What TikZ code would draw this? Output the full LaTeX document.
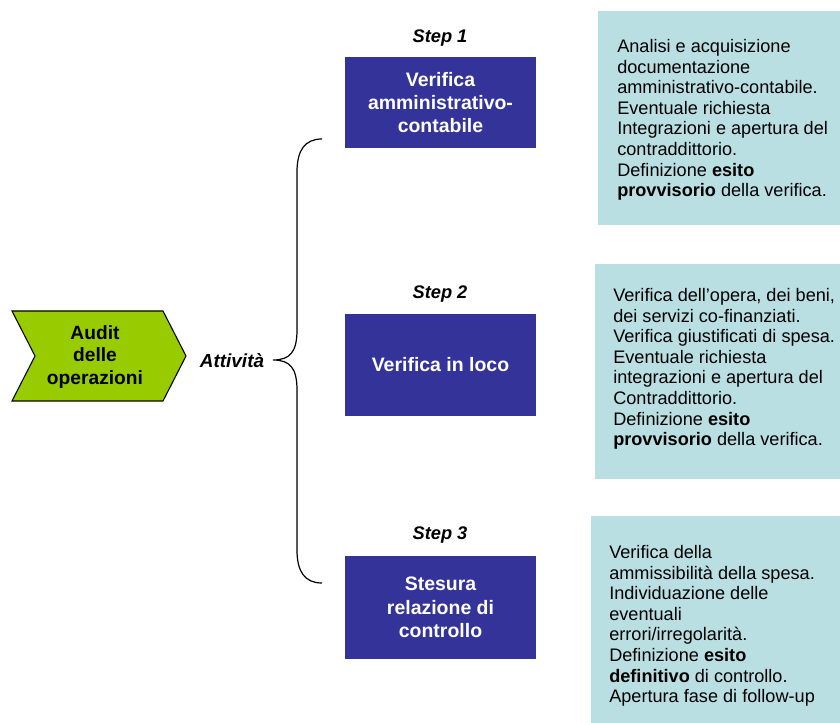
\documentclass[tikz,border=0pt]{standalone}
\usepackage{fontspec}
\setmainfont{Liberation Sans}
\definecolor{stepblue}{HTML}{333399}
\definecolor{auditgreen}{HTML}{99CC00}
\definecolor{noteteal}{HTML}{B9DFE3}
\begin{document}
\begin{tikzpicture}[x=0.75pt,y=-0.75pt,
  stepbox/.style={fill=stepblue,draw=none,text=white,font=\fontsize{14.6pt}{17.5pt}\selectfont\bfseries,align=center,inner sep=0pt},
  steplabel/.style={font=\fontsize{13.7pt}{15pt}\selectfont\bfseries\itshape,inner sep=0pt},
  notebox/.style={fill=noteteal,draw=none},
  notetext/.style={anchor=west,align=left,inner sep=0pt,font=\fontsize{13.6pt}{15.4pt}\selectfont},
  brace/.style={draw=black,line width=0.9pt}
]
\useasboundingbox (0,0) rectangle (840,723);

% chevron
\draw[fill=auditgreen,draw=black,line width=0.8pt] (12,311) -- (163,311) -- (186,356) -- (163,401) -- (12,401) -- (35,356) -- cycle;
\node[align=center,inner sep=0pt,font=\fontsize{14.4pt}{16.9pt}\selectfont\bfseries] (audit) at (95,357) {Audit\\delle\\operazioni};

\node[steplabel,font=\fontsize{14.2pt}{15pt}\selectfont\bfseries\itshape] (attivita) at (232,361) {Attività};

% brace
\coordinate (btop) at (322,139);
\coordinate (btip) at (273,360);
\coordinate (bbot) at (322,583);
\draw[brace] (btop) .. controls (305,139) and (297,150) .. (297,172) -- (297,330)
  .. controls (297,352) and (290,360) .. (btip)
  .. controls (290,360) and (297,368) .. (297,390) -- (297,550)
  .. controls (297,572) and (305,583) .. (bbot);

% steps
\node[steplabel] (s1) at (440,38) {Step 1};
\path[fill=stepblue] (345,57) rectangle (536,148);
\node[stepbox] (b1) at (440.5,102.5) {Verifica\\amministrativo-\\contabile};

\node[steplabel] (s2) at (440,294) {Step 2};
\path[fill=stepblue] (345,314) rectangle (536,416);
\node[stepbox] (b2) at (440.5,365) {Verifica in loco};

\node[steplabel] (s3) at (440,535) {Step 3};
\path[fill=stepblue] (345,556) rectangle (536,659);
\node[stepbox] (b3) at (440.5,607.5) {Stesura\\relazione di\\controllo};

% notes
\path[notebox] (598,11) rectangle (840,225);
\node[notetext] (n1) at (617,120) {Analisi e acquisizione\\documentazione\\amministrativo-contabile.\\Eventuale richiesta\\Integrazioni e apertura del\\contraddittorio.\\Definizione \textbf{esito}\\\textbf{provvisorio} della verifica.};

\path[notebox] (595,264) rectangle (840,479);
\node[notetext] (n2) at (613,369) {Verifica dell’opera, dei beni,\\dei servizi co-finanziati.\\Verifica giustificati di spesa.\\Eventuale richiesta\\integrazioni e apertura del\\Contraddittorio.\\Definizione \textbf{esito}\\\textbf{provvisorio} della verifica.};

\path[notebox] (591,516) rectangle (840,723);
\node[notetext] (n3) at (609,626) {Verifica della\\ammissibilità della spesa.\\Individuazione delle\\eventuali\\errori/irregolarità.\\Definizione \textbf{esito}\\\textbf{definitivo} di controllo.\\Apertura fase di follow-up};
\end{tikzpicture}
\end{document}
